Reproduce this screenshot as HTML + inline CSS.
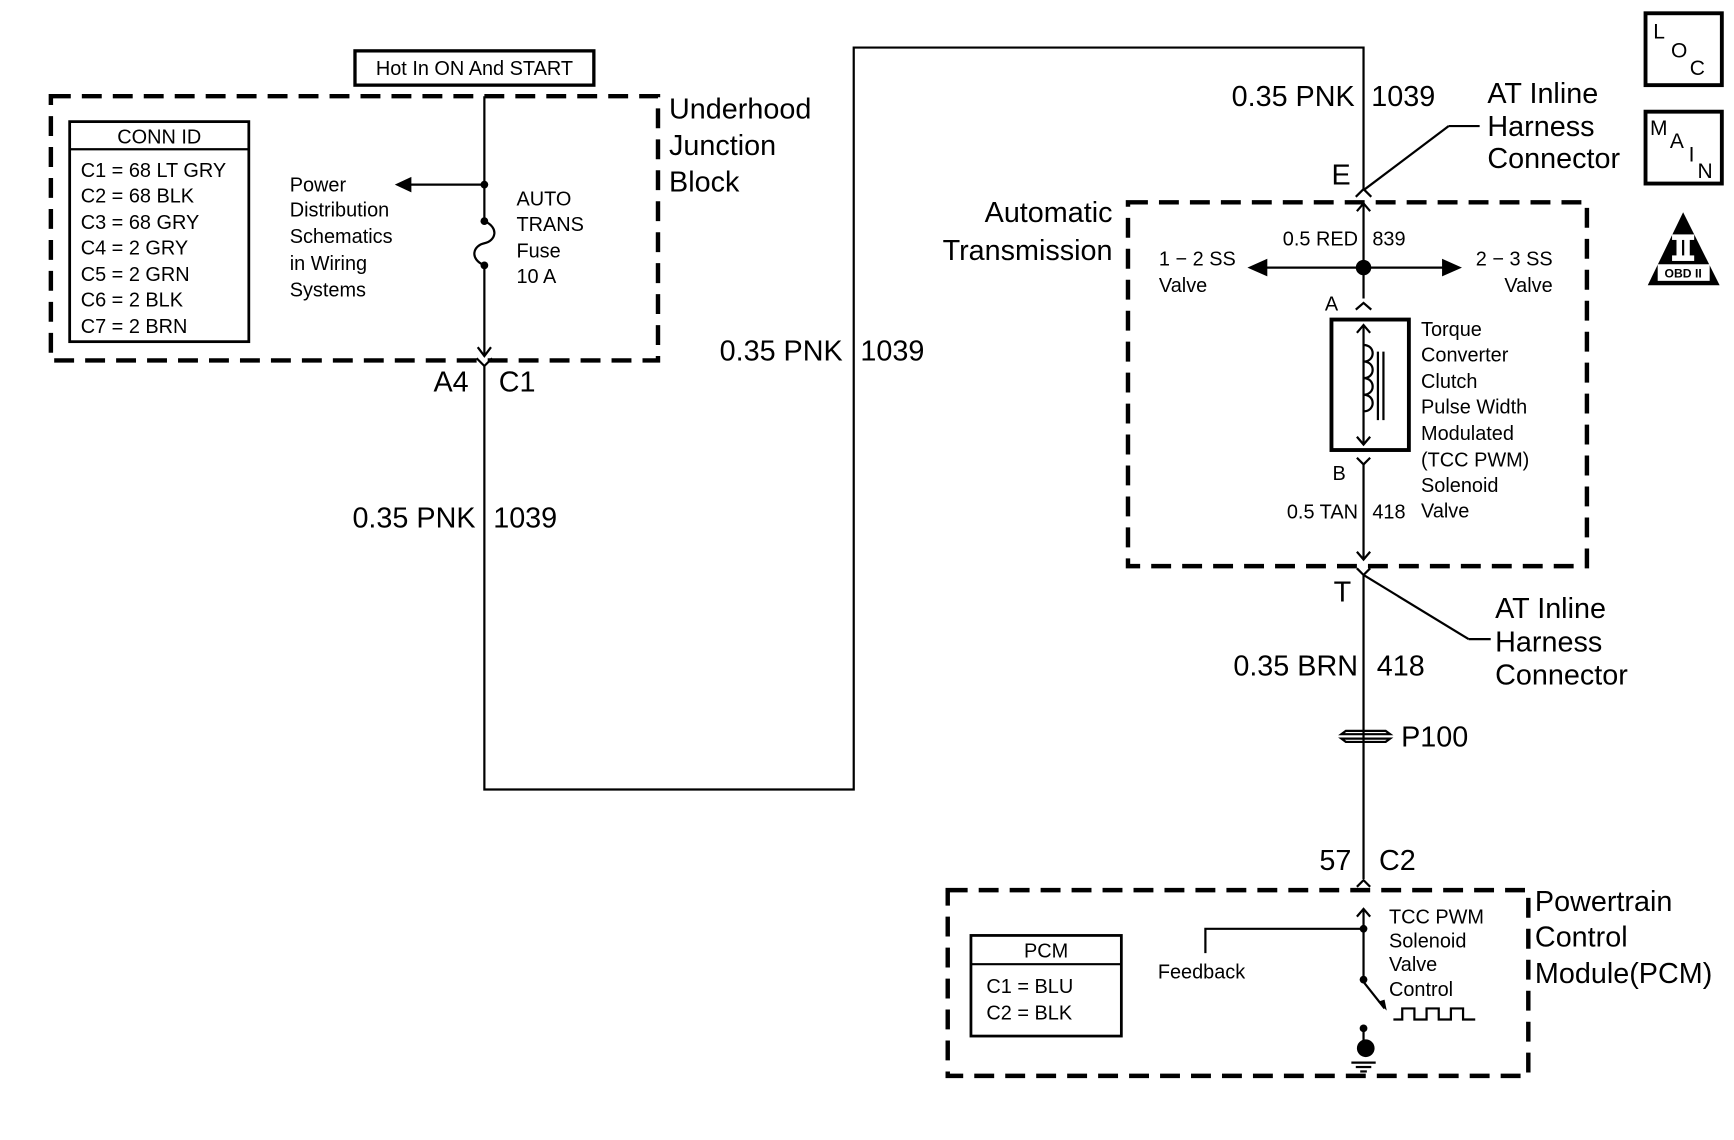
<!DOCTYPE html>
<html><head><meta charset="utf-8"><style>
html,body{margin:0;padding:0;background:#fff;}
svg{display:block;}
text{font-family:"Liberation Sans",sans-serif;fill:#000;}
</style></head><body>
<svg width="1734" height="1140" viewBox="0 0 1568 1031" preserveAspectRatio="none" xmlns="http://www.w3.org/2000/svg">
<g fill="none" stroke="#000">
<!-- dashed boxes -->
<rect x="46" y="87" width="549" height="239" stroke-width="4" stroke-dasharray="18,10"/>
<rect x="1020" y="183" width="415" height="329" stroke-width="4" stroke-dasharray="18,10"/>
<rect x="857" y="805" width="525" height="168" stroke-width="4" stroke-dasharray="18,10"/>
<!-- solid boxes -->
<rect x="321" y="46" width="216" height="31" stroke-width="3"/>
<rect x="63" y="110" width="162" height="199" stroke-width="2.5"/>
<line x1="63" y1="135" x2="225" y2="135" stroke-width="2"/>
<rect x="878" y="846" width="136" height="91" stroke-width="2.5"/>
<line x1="878" y1="872" x2="1014" y2="872" stroke-width="2"/>
<rect x="1204" y="289" width="70" height="118" stroke-width="3.5"/>
<rect x="1488" y="12" width="69" height="65" stroke-width="3.5"/>
<rect x="1488" y="101" width="69" height="65" stroke-width="3.5"/>
<!-- wires -->
<g stroke-width="2">
<line x1="438" y1="87" x2="438" y2="200"/>
<line x1="438" y1="240" x2="438" y2="322"/>
<path d="M438 200 C452 206,448 218,438 220 C428 222,424 234,438 240"/>
<line x1="438" y1="167" x2="370" y2="167"/>
<polyline points="432,314 438,322 444,314"/>
<polyline points="431,324 438,331 445,324"/>
<polyline points="438,331 438,714 772,714 772,43 1233,43 1233,172"/>
<polyline points="1226,178 1233,171 1240,178"/>
<line x1="1233" y1="172" x2="1310" y2="114"/>
<line x1="1310" y1="114" x2="1338" y2="114"/>
<line x1="1233" y1="184" x2="1233" y2="270"/>
<polyline points="1227,191 1233,184 1239,191"/>
<line x1="1140" y1="242" x2="1310" y2="242"/>
<polyline points="1226,280 1233,274 1240,280"/>
<line x1="1233" y1="294" x2="1233" y2="402"/>
<polyline points="1227,301 1233,294 1239,301"/>
<polyline points="1227,395 1233,402 1239,395"/>
<path d="M1233 312 C1244 312,1244 327,1233 327 C1244 327,1244 342,1233 342 C1244 342,1244 357,1233 357 C1244 357,1244 372,1233 372"/>
<line x1="1246" y1="318" x2="1246" y2="380"/>
<line x1="1251" y1="318" x2="1251" y2="380"/>
<polyline points="1227,414 1233,420 1239,414"/>
<line x1="1233" y1="420" x2="1233" y2="506"/>
<polyline points="1227,499 1233,506 1239,499"/>
<polyline points="1227,514 1233,520 1239,514"/>
<line x1="1233" y1="520" x2="1233" y2="795"/>
<line x1="1233" y1="520" x2="1328" y2="578"/>
<line x1="1328" y1="578" x2="1348" y2="578"/>
<polyline points="1227,802 1233,796 1239,802"/>
<line x1="1233" y1="822" x2="1233" y2="886"/>
<polyline points="1227,829 1233,822 1239,829"/>
<polyline points="1233,840 1090,840 1090,862"/>
<line x1="1233" y1="888" x2="1252" y2="912"/>
<polyline points="1260,922 1268,922 1268,912 1279,912 1279,922 1290,922 1290,912 1301,912 1301,922 1312,922 1312,912 1323,912 1323,922 1334,922"/>
<line x1="1233" y1="930" x2="1233" y2="948"/>
<line x1="1222" y1="961" x2="1244" y2="961"/>
<line x1="1226" y1="965" x2="1240" y2="965"/>
<line x1="1230" y1="969" x2="1236" y2="969"/>
</g>
<!-- P100 -->
<g stroke-width="2">
<path d="M1217 661 L1253 661 L1257 664 L1213 664 Z"/>
<path d="M1213 668 L1257 668 L1253 671 L1217 671 Z"/>
</g>
</g>
<g fill="#000">
<polygon points="357,167 372,160 372,174"/>
<circle cx="438" cy="167" r="3.5"/>
<circle cx="438" cy="200" r="3.5"/>
<circle cx="438" cy="240" r="3.5"/>
<circle cx="1233" cy="242" r="7"/>
<polygon points="1128,242 1146,234 1146,250"/>
<polygon points="1322,242 1304,234 1304,250"/>
<circle cx="1233" cy="840" r="3.5"/>
<circle cx="1233" cy="886" r="3.5"/>
<polygon points="1254,914 1246,906 1252,904"/>
<circle cx="1233" cy="930" r="3.5"/>
<circle cx="1235" cy="948" r="8"/>
<polygon points="1522,192 1490,258 1555,258"/>
</g>
<g fill="#fff" stroke="#fff" stroke-width="2">
<rect x="1513" y="213" width="18" height="3"/>
<rect x="1517" y="217" width="3" height="14"/>
<rect x="1524" y="217" width="3" height="14"/>
<rect x="1513" y="232" width="18" height="3"/>
<rect x="1500" y="240" width="45" height="13" fill="#fff"/>
</g>
<text x="1522" y="251" font-size="11" font-weight="bold" text-anchor="middle">OBD II</text>

<g font-size="18">
<text x="429" y="68" text-anchor="middle">Hot In ON And START</text>
<text x="144" y="130" text-anchor="middle">CONN ID</text>
<text x="73" y="160">C1 = 68 LT GRY</text>
<text x="73" y="183">C2 = 68 BLK</text>
<text x="73" y="207">C3 = 68 GRY</text>
<text x="73" y="230">C4 = 2 GRY</text>
<text x="73" y="254">C5 = 2 GRN</text>
<text x="73" y="277">C6 = 2 BLK</text>
<text x="73" y="301">C7 = 2 BRN</text>
<text x="262" y="173">Power</text>
<text x="262" y="196">Distribution</text>
<text x="262" y="220">Schematics</text>
<text x="262" y="244">in Wiring</text>
<text x="262" y="268">Systems</text>
<text x="467" y="186">AUTO</text>
<text x="467" y="209">TRANS</text>
<text x="467" y="233">Fuse</text>
<text x="467" y="256">10 A</text>
<text x="1228" y="222" text-anchor="end">0.5 RED</text>
<text x="1241" y="222">839</text>
<text x="1048" y="240">1 − 2 SS</text>
<text x="1048" y="264">Valve</text>
<text x="1404" y="240" text-anchor="end">2 − 3 SS</text>
<text x="1404" y="264" text-anchor="end">Valve</text>
<text x="1198" y="281">A</text>
<text x="1205" y="434">B</text>
<text x="1228" y="469" text-anchor="end">0.5 TAN</text>
<text x="1241" y="469">418</text>
<text x="1285" y="304">Torque</text>
<text x="1285" y="327">Converter</text>
<text x="1285" y="351">Clutch</text>
<text x="1285" y="374">Pulse Width</text>
<text x="1285" y="398">Modulated</text>
<text x="1285" y="422">(TCC PWM)</text>
<text x="1285" y="445">Solenoid</text>
<text x="1285" y="468">Valve</text>
<text x="946" y="866" text-anchor="middle">PCM</text>
<text x="892" y="898">C1 = BLU</text>
<text x="892" y="922">C2 = BLK</text>
<text x="1047" y="885">Feedback</text>
<text x="1256" y="835">TCC PWM</text>
<text x="1256" y="857">Solenoid</text>
<text x="1256" y="878">Valve</text>
<text x="1256" y="901">Control</text>
</g>
<g font-size="26">
<text x="605" y="107">Underhood</text>
<text x="605" y="140">Junction</text>
<text x="605" y="173">Block</text>
<text x="392" y="354">A4</text>
<text x="451" y="354">C1</text>
<text x="762" y="326" text-anchor="end">0.35 PNK</text>
<text x="778" y="326">1039</text>
<text x="430" y="477" text-anchor="end">0.35 PNK</text>
<text x="446" y="477">1039</text>
<text x="1225" y="96" text-anchor="end">0.35 PNK</text>
<text x="1240" y="96">1039</text>
<text x="1345" y="93">AT Inline</text>
<text x="1345" y="123">Harness</text>
<text x="1345" y="152">Connector</text>
<text x="1204" y="167">E</text>
<text x="1006" y="201" text-anchor="end">Automatic</text>
<text x="1006" y="235" text-anchor="end">Transmission</text>
<text x="1206" y="544">T</text>
<text x="1352" y="559">AT Inline</text>
<text x="1352" y="589">Harness</text>
<text x="1352" y="619">Connector</text>
<text x="1228" y="611" text-anchor="end">0.35 BRN</text>
<text x="1245" y="611">418</text>
<text x="1267" y="675">P100</text>
<text x="1222" y="787" text-anchor="end">57</text>
<text x="1247" y="787">C2</text>
<text x="1388" y="824">Powertrain</text>
<text x="1388" y="856">Control</text>
<text x="1388" y="889">Module(PCM)</text>
</g>
<g font-size="19">
<text x="1495" y="35">L</text>
<text x="1511" y="52">O</text>
<text x="1528" y="68">C</text>
<text x="1492" y="122">M</text>
<text x="1510" y="134">A</text>
<text x="1527" y="146">I</text>
<text x="1535" y="161">N</text>
</g>
</svg>
</body></html>
